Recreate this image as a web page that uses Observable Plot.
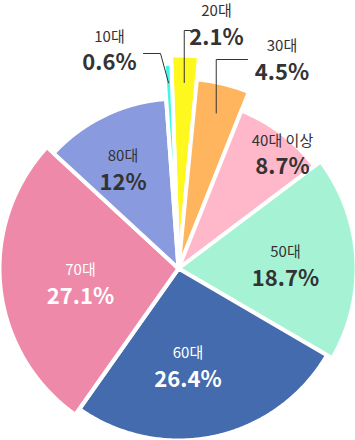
<!DOCTYPE html>
<html><head><meta charset="utf-8">
<script src="https://cdn.jsdelivr.net/npm/d3@7"></script>
<script src="https://cdn.jsdelivr.net/npm/@observablehq/plot@0.6"></script>
<style>body{margin:0;background:#fff;}</style>
</head><body><div id="chart"></div>
<script>
// ---- data ----
const categories = ["20대", "30대", "40대 이상", "50대", "60대", "70대", "80대", "10대"];
const shares = [2.1, 4.5, 8.7, 18.7, 26.4, 27.1, 12, 0.6];
const shareLabels = ["2.1%", "4.5%", "8.7%", "18.7%", "26.4%", "27.1%", "12%", "0.6%"];

// ---- style / layout ----
const colors = ["#FFF81E", "#FFB55E", "#FFB8CA", "#A6F2D5", "#436BAD", "#EE89A9", "#8A9ADF", "#3FF7E6"];
const outerRadius = [213, 190, 170, 178, 172, 179, 170, 205];
const whiteText = ["60대", "70대"];
const startDeg = -2;
// label block centres relative to pie centre (chart units = px, y up)
const labelAt = [[38, 244], [103.5, 209], [104, 114.5], [107, 3], [9.5, -98], [-98, -15], [-55.5, 99], [-69, 218.5]];
// leader lines for small outside slices: anchor radius, elbow y, end x
const leaders = [
  {i: 0, r: 186, elbowY: 238, endX: 12},
  {i: 1, r: 160, elbowY: 209, endX: 69},
  {i: 7, r: 186, elbowY: 215, endX: -35, diagonal: true}
];

const total = d3.sum(shares);
const toRad = Math.PI / 180;
let acc = 0;
const slicePts = [];
const mids = [];
categories.forEach((c, i) => {
  const a0 = startDeg * toRad + acc / total * 2 * Math.PI;
  acc += shares[i];
  const a1 = startDeg * toRad + acc / total * 2 * Math.PI;
  mids.push((a0 + a1) / 2);
  const r = outerRadius[i];
  slicePts.push({cat: c, x: 0, y: 0});
  const n = Math.max(4, Math.ceil((a1 - a0) / 0.01));
  for (let k = 0; k <= n; k++) {
    const a = a0 + (a1 - a0) * k / n;
    slicePts.push({cat: c, x: r * Math.sin(a), y: r * Math.cos(a)});
  }
});

const leaderPts = [];
leaders.forEach(L => {
  const a = mids[L.i];
  const ax = L.r * Math.sin(a), ay = L.r * Math.cos(a);
  const c = categories[L.i];
  leaderPts.push({cat: c, x: ax, y: ay});
  leaderPts.push({cat: c, x: L.diagonal ? ax - 8 : ax, y: L.elbowY});
  leaderPts.push({cat: c, x: L.endX, y: L.elbowY});
});

const labels = categories.map((c, i) => ({cat: c, pct: shareLabels[i], x: labelAt[i][0], y: labelAt[i][1], white: whiteText.includes(c)}));

const font = "'Noto Sans CJK KR', 'Noto Sans', sans-serif";
const dark = labels.filter(d => !d.white), light = labels.filter(d => d.white);
const chart = Plot.plot({
  width: 355, height: 440, margin: 0,
  x: {domain: [-178, 177], axis: null},
  y: {domain: [-172, 268], axis: null},
  color: {domain: categories, range: colors},
  style: {fontFamily: font, background: "white"},
  marks: [
    Plot.line(slicePts, {x: "x", y: "y", z: "cat", fill: "cat", stroke: "white", strokeWidth: 4, strokeLinejoin: "round", curve: "linear-closed"}),
    Plot.line(leaderPts, {x: "x", y: "y", z: "cat", stroke: "#333", strokeWidth: 1}),
    Plot.text(dark, {x: "x", y: "y", text: "cat", dy: -13, fontSize: 15, fill: "#333"}),
    Plot.text(dark, {x: "x", y: "y", text: "pct", dy: 13, fontSize: 22, fontWeight: "bold", fill: "#333"}),
    Plot.text(light, {x: "x", y: "y", text: "cat", dy: -13, fontSize: 15, fill: "white"}),
    Plot.text(light, {x: "x", y: "y", text: "pct", dy: 13, fontSize: 22, fontWeight: "bold", fill: "white"})
  ]
});
document.getElementById("chart").appendChild(chart);
</script>
</body></html>
